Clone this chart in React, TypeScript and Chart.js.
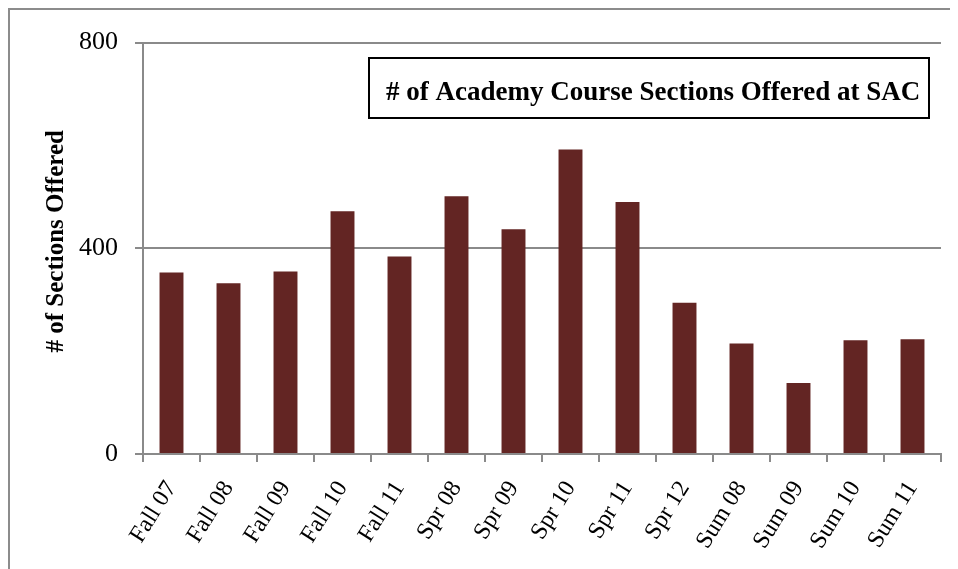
import React, { useEffect, useRef } from "react";
import { Chart, registerables } from "chart.js";

Chart.register(...registerables);

const categories = [
  "Fall 07", "Fall 08", "Fall 09", "Fall 10", "Fall 11",
  "Spr 08", "Spr 09", "Spr 10", "Spr 11", "Spr 12",
  "Sum 08", "Sum 09", "Sum 10", "Sum 11",
];
const sections = [353, 332, 355, 472, 384, 501, 437, 592, 490, 294, 215, 138, 221, 223];
const yTicks = [0, 400, 800];
const chartTitle = "# of Academy Course Sections Offered at SAC";
const yTitle = "# of Sections Offered";

const SERIF = "'Liberation Serif', 'Times New Roman', Times, serif";

const titleBoxPlugin = {
  id: "titleBox",
  afterDraw(chart: any) {
    const ctx = chart.ctx;
    const area = chart.chartArea;
    ctx.save();
    ctx.strokeStyle = "#000";
    ctx.lineWidth = 2;
    ctx.strokeRect(359, 48, 560, 60);
    ctx.fillStyle = "#000";
    ctx.font = `bold 27px ${SERIF}`;
    ctx.textAlign = "left";
    ctx.textBaseline = "alphabetic";
    ctx.fillText(chartTitle, 376, 90);
    // y-axis title
    ctx.font = `bold 25px ${SERIF}`;
    ctx.textAlign = "center";
    ctx.textBaseline = "middle";
    ctx.translate(47, (area.top + area.bottom) / 2 - 7);
    ctx.rotate(-Math.PI / 2);
    ctx.fillText(yTitle, 0, 0);
    ctx.restore();
  },
};

export default function App() {
  const ref = useRef<HTMLCanvasElement | null>(null);

  useEffect(() => {
    if (!ref.current) return;
    const chart = new Chart(ref.current, {
      type: "bar",
      data: {
        labels: categories,
        datasets: [
          {
            label: chartTitle,
            data: sections,
            backgroundColor: "#632523",
            borderWidth: 0,
            barPercentage: 0.42,
            categoryPercentage: 1,
          },
        ],
      },
      options: {
        animation: false,
        responsive: false,
        maintainAspectRatio: false,
        layout: { padding: { top: 28, right: 17, left: 0, bottom: 0 } },
        plugins: {
          legend: { display: false },
          tooltip: { enabled: false },
          title: { display: false },
        },
        scales: {
          x: {
            offset: true,
            afterFit: (s: any) => {
              s.height = 115;
            },
            grid: {
              offset: true,
              drawOnChartArea: false,
              drawTicks: true,
              tickLength: 8,
              color: "#8a8a8a",
              lineWidth: 2,
            },
            border: { display: true, color: "#8a8a8a", width: 2 },
            ticks: {
              color: "#000",
              font: { family: SERIF, size: 24 },
              minRotation: 58,
              maxRotation: 58,
              padding: 14,
              autoSkip: false,
            },
          },
          y: {
            min: 0,
            max: 800,
            afterFit: (s: any) => {
              s.width = 133;
            },
            afterBuildTicks: (s: any) => {
              s.ticks = yTicks.map((v) => ({ value: v }));
            },
            grid: {
              color: "#8a8a8a",
              lineWidth: 2,
              tickLength: 8,
              drawTicks: true,
            },
            border: { display: true, color: "#8a8a8a", width: 2 },
            ticks: {
              color: "#000",
              font: { family: SERIF, size: 26 },
              padding: 17,
            },
          },
        },
      },
      plugins: [titleBoxPlugin],
    });
    return () => chart.destroy();
  }, []);

  return (
    <div
      style={{
        position: "relative",
        width: 950,
        height: 561,
        borderTop: "2px solid #8c8c8c",
        borderLeft: "2px solid #8c8c8c",
        overflow: "hidden",
        background: "#fff",
      }}
    >
      <canvas ref={ref} width={948} height={559} style={{ display: "block", width: 948, height: 559 }} />
    </div>
  );
}
